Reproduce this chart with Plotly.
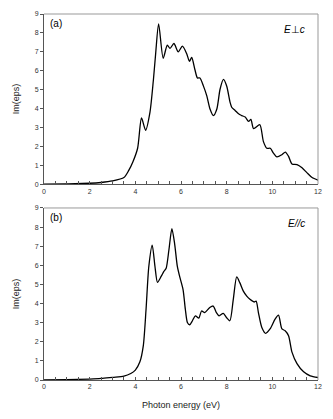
import plotly.graph_objects as go

# Panel (a): E perpendicular c
energy_a = [0.0, 1.0, 2.0, 2.5, 3.0, 3.5, 3.7, 3.9, 4.1, 4.27, 4.45, 4.64, 4.79, 4.89, 5.02,
            5.22, 5.4, 5.52, 5.69, 5.88, 6.06, 6.25, 6.37, 6.47, 6.61, 6.72, 6.83, 6.98,
            7.13, 7.27, 7.42, 7.57, 7.71, 7.86, 8.0, 8.15, 8.22, 8.37, 8.52, 8.66, 8.81,
            8.96, 9.06, 9.18, 9.45, 9.61, 9.76, 9.91, 10.05, 10.2, 10.42, 10.57, 10.71,
            10.86, 11.08, 11.3, 11.52, 11.74, 12.0]
eps_a = [0.0, 0.02, 0.05, 0.09, 0.17, 0.35, 0.7, 1.2, 1.9, 3.5, 2.85, 3.8, 5.5, 6.9, 8.48,
         6.66, 7.35, 7.18, 7.44, 7.0, 7.3, 6.9, 6.5, 6.7, 6.05, 5.62, 5.62, 5.2,
         4.67, 3.98, 3.63, 3.98, 5.02, 5.54, 5.19, 4.33, 4.07, 3.9, 3.72, 3.63, 3.55,
         3.32, 3.43, 2.94, 3.15, 2.25, 1.9, 1.9, 1.64, 1.44, 1.56, 1.7, 1.47,
         1.07, 1.04, 0.87, 0.6, 0.35, 0.21]

# Panel (b): E parallel c
energy_b = [0.0, 1.0, 2.0, 2.5, 3.0, 3.5, 3.8, 4.0, 4.2, 4.35, 4.47, 4.59, 4.74, 4.86, 4.97,
            5.13, 5.25, 5.35, 5.47, 5.6, 5.72, 5.84, 5.94, 6.09, 6.19, 6.28, 6.38, 6.5,
            6.63, 6.78, 6.9, 7.04, 7.26, 7.41, 7.55, 7.67, 7.85, 7.99, 8.14, 8.29, 8.44,
            8.58, 8.73, 8.88, 9.02, 9.2, 9.29, 9.39, 9.54, 9.71, 9.9, 10.12, 10.27, 10.42,
            10.56, 10.71, 10.86, 11.08, 11.37, 11.66, 12.0]
eps_b = [0.0, 0.02, 0.05, 0.08, 0.14, 0.2, 0.34, 0.52, 0.95, 1.8, 3.7, 5.94, 7.06, 5.94, 5.11,
         5.42, 5.68, 5.85, 6.8, 7.92, 7.14, 5.94, 5.42, 4.73, 3.7, 3.01, 2.89, 3.1,
         3.36, 3.24, 3.61, 3.53, 3.79, 3.87, 3.53, 3.36, 3.49, 3.27, 3.1, 4.22, 5.39,
         5.08, 4.65, 4.39, 4.22, 4.08, 4.13, 3.53, 2.75, 2.44, 2.67, 3.18, 3.39, 2.67,
         2.58, 2.32, 1.46, 0.86, 0.43, 0.22, 0.13]

x_ticks = [0, 2, 4, 6, 8, 10, 12]
y_ticks = [0, 1, 2, 3, 4, 5, 6, 7, 8, 9]

FONT = "Liberation Sans, Arial, sans-serif"

fig = go.Figure()
fig.add_trace(go.Scatter(x=energy_a, y=eps_a, mode="lines", xaxis="x", yaxis="y",
                         line=dict(color="black", width=1.3, shape="spline", smoothing=0.7),
                         showlegend=False))
fig.add_trace(go.Scatter(x=energy_b, y=eps_b, mode="lines", xaxis="x2", yaxis="y2",
                         line=dict(color="black", width=1.3, shape="spline", smoothing=0.7),
                         showlegend=False))

def xax(anchor, title=None):
    d = dict(anchor=anchor, domain=[0, 1], range=[0, 12], tickvals=x_ticks,
             ticks="inside", ticklen=3, tickcolor="#555", showline=True, linecolor="#555",
             linewidth=1, showgrid=False, zeroline=False,
             tickfont=dict(family=FONT, size=7, color="#333"),
             minor=dict(dtick=0.5, ticks="inside", ticklen=3, tickcolor="#555", showgrid=False))
    if title:
        d["title"] = dict(text=title, font=dict(family=FONT, size=9, color="#222"), standoff=12)
    return d

def yax(anchor, domain):
    return dict(anchor=anchor, domain=domain, range=[0, 9], tickvals=y_ticks,
                ticks="outside", ticklen=3, tickcolor="#555", showline=True, linecolor="#555",
                linewidth=1, showgrid=False, zeroline=False,
                tickfont=dict(family=FONT, size=7, color="#333"),
                title=dict(text="Im(eps)", font=dict(family=FONT, size=9, color="#222"), standoff=13))

fig.update_layout(
    width=333, height=419,
    margin=dict(l=44, r=15, t=10, b=37),
    paper_bgcolor="white", plot_bgcolor="white",
    xaxis=xax("y"),
    yaxis=yax("x", [0.535, 1.0]),
    xaxis2=xax("y2", "Photon energy (eV)"),
    yaxis2=yax("x2", [0.0, 0.470]),
)

# gray top/right frame lines
for xr, yr in (("x domain", "y domain"), ("x2 domain", "y2 domain")):
    fig.add_shape(type="line", xref=xr, yref=yr, x0=0, x1=1, y0=1, y1=1,
                  line=dict(color="#999", width=1))
    fig.add_shape(type="line", xref=xr, yref=yr, x0=1, x1=1, y0=0, y1=1,
                  line=dict(color="#999", width=1))

fig.add_annotation(xref="x domain", yref="y domain", x=0.015, y=0.99, text="(a)",
                   showarrow=False, xanchor="left", yanchor="top",
                   font=dict(family=FONT, size=10, color="black"))
fig.add_annotation(xref="x2 domain", yref="y2 domain", x=0.015, y=0.99, text="(b)",
                   showarrow=False, xanchor="left", yanchor="top",
                   font=dict(family=FONT, size=10, color="black"))
fig.add_annotation(xref="x domain", yref="y domain", x=0.96, y=0.955, text="<i>E</i>⊥<i>c</i>",
                   showarrow=False, xanchor="right", yanchor="top",
                   font=dict(family=FONT, size=10, color="black"))
fig.add_annotation(xref="x2 domain", yref="y2 domain", x=0.96, y=0.955, text="<i>E//c</i>",
                   showarrow=False, xanchor="right", yanchor="top",
                   font=dict(family=FONT, size=10, color="black"))

fig.write_html("out.html")
